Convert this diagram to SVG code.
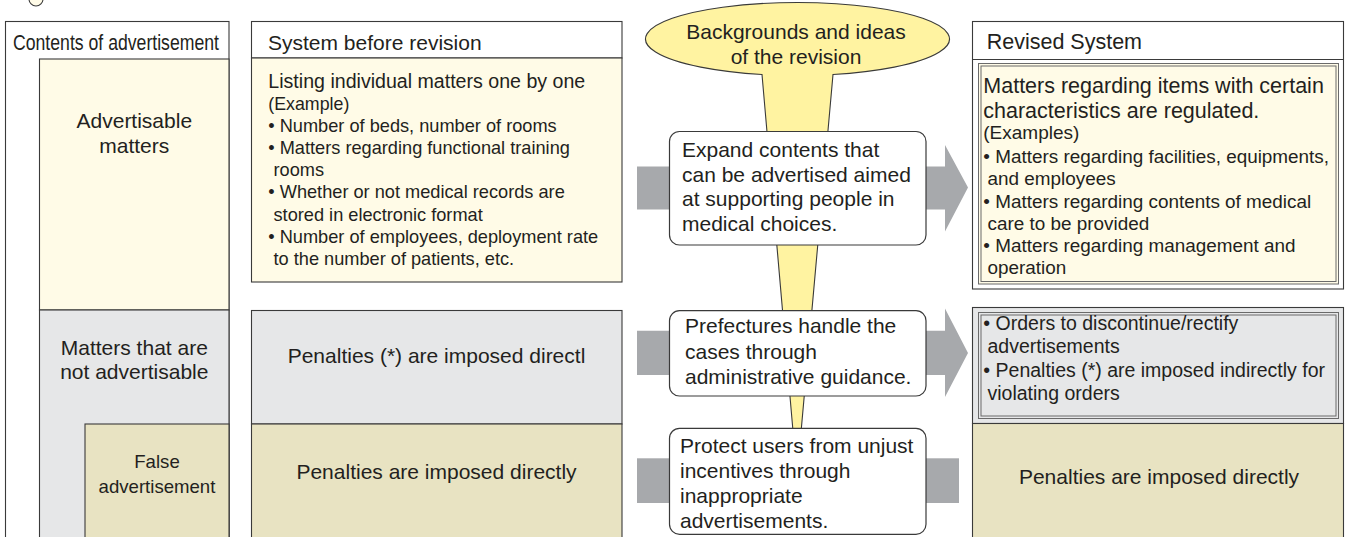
<svg xmlns="http://www.w3.org/2000/svg" width="1345" height="537" viewBox="0 0 1345 537">
<style>
.t{font-family:"Liberation Sans",Arial,Helvetica,sans-serif;fill:#231F20}
.f21{font-size:21px}
.f19{font-size:19.5px}
.f18{font-size:18.2px}
.c{text-anchor:middle}
.bx{stroke:#3a3a3a;stroke-width:1.1}
.white{fill:#ffffff}
.cream{fill:#FFFBE7}
.gray{fill:#E6E7E8}
.khaki{fill:#E8E3C2}
.dbl{fill:none;stroke:#6a6a6a;stroke-width:1}
.arrow{fill:#A7A9AC}
.rbox{fill:#ffffff;stroke:#3a3a3a;stroke-width:1.2}
</style>

<circle cx="36" cy="-1" r="7" fill="#FFFBE7" stroke="#3a3a3a" stroke-width="1.1"/>

<g id="connectors">
  <polygon class="arrow" points="637,166.5 945,166.5 945,145 968,187.5 945,231.5 945,209.5 637,209.5"/>
  <polygon class="arrow" points="637,330.7 945,330.7 945,308.5 968,353 945,397 945,375 637,375"/>
  <rect class="arrow" x="637" y="458.3" width="322" height="44.7"/>
</g>

<g id="callout">
  <path d="M 762 74.5 A 152 36.5 0 1 1 833 74.5 L 797 477 Z" fill="#FFF3A1" stroke="#3a3a3a" stroke-width="1.1"/>
  <text class="t f21 c" x="796" y="39.3">Backgrounds and ideas</text>
  <text class="t f21 c" x="796" y="64">of the revision</text>
</g>

<g id="left-column">
  <rect class="bx white" x="5.5" y="21.5" width="223.5" height="530"/>
  <text class="t c" x="116" y="50" font-size="22" textLength="206" lengthAdjust="spacingAndGlyphs">Contents of advertisement</text>
  <g id="advertisable">
    <rect class="bx cream" x="39.5" y="59" width="189.5" height="251"/>
    <text class="t f21 c" x="134.3" y="128">Advertisable</text>
    <text class="t f21 c" x="134.3" y="152.7">matters</text>
  </g>
  <g id="not-advertisable">
    <rect class="bx gray" x="39.5" y="310" width="189.5" height="240"/>
    <text class="t f21 c" x="134.3" y="355">Matters that are</text>
    <text class="t f21 c" x="134.3" y="379">not advertisable</text>
  </g>
  <g id="false-ad">
    <rect class="bx khaki" x="85" y="424" width="144" height="130"/>
    <text class="t c" font-size="18.6" x="157" y="468">False</text>
    <text class="t c" font-size="18.6" x="157" y="493">advertisement</text>
  </g>
</g>

<g id="before-revision">
  <rect class="bx white" x="251.5" y="21.5" width="370.5" height="36.5"/>
  <text class="t f21" x="268" y="50">System before revision</text>
  <g id="before-advertisable">
    <rect class="bx cream" x="251.5" y="58" width="370.5" height="224"/>
    <text class="t" font-size="19.6" x="268.3" y="87.5">Listing individual matters one by one</text>
    <text class="t" font-size="17.8" x="268.3" y="109.5">(Example)</text>
    <text class="t f18" x="268.3" y="131.8">• Number of beds, number of rooms</text>
    <text class="t f18" x="268.3" y="154">• Matters regarding functional training</text>
    <text class="t f18" x="273.5" y="176.2">rooms</text>
    <text class="t f18" x="268.3" y="198.4">• Whether or not medical records are</text>
    <text class="t f18" x="273.5" y="220.6">stored in electronic format</text>
    <text class="t f18" x="268.3" y="242.8">• Number of employees, deployment rate</text>
    <text class="t f18" x="273.5" y="265">to the number of patients, etc.</text>
  </g>
  <g id="before-not-advertisable">
    <rect class="bx gray" x="251.5" y="310.5" width="370.5" height="113.5"/>
    <text class="t f21 c" x="436.5" y="362.7">Penalties (*) are imposed directl</text>
  </g>
  <g id="before-false">
    <rect class="bx khaki" x="251.5" y="424" width="370.5" height="130"/>
    <text class="t f21 c" x="436.5" y="479">Penalties are imposed directly</text>
  </g>
</g>

<g id="idea-expand">
  <rect class="rbox" x="669.5" y="131.5" width="256.5" height="113.5" rx="10"/>
  <text class="t f21" x="682" y="156.7">Expand contents that</text>
  <text class="t f21" x="682" y="181.7">can be advertised aimed</text>
  <text class="t f21" x="682" y="206.3">at supporting people in</text>
  <text class="t f21" x="682" y="230.7">medical choices.</text>
</g>

<g id="idea-prefectures">
  <rect class="rbox" x="669.5" y="310.7" width="256.5" height="85.3" rx="10"/>
  <text class="t f21" x="685" y="333.3">Prefectures handle the</text>
  <text class="t f21" x="685" y="359.3">cases through</text>
  <text class="t f21" x="685" y="384.3">administrative guidance.</text>
</g>

<g id="idea-protect">
  <rect class="rbox" x="669.5" y="428.3" width="256.5" height="106" rx="10"/>
  <text class="t f21" x="680" y="453.3">Protect users from unjust</text>
  <text class="t f21" x="680" y="478.3">incentives through</text>
  <text class="t f21" x="680" y="502.7">inappropriate</text>
  <text class="t f21" x="680" y="528.3">advertisements.</text>
</g>

<g id="revised-system">
  <rect class="bx white" x="972.5" y="21.5" width="371" height="267.5"/>
  <line x1="972.5" y1="59.5" x2="1343.5" y2="59.5" stroke="#3a3a3a" stroke-width="1.1"/>
  <text class="t" font-size="21.5" x="986.7" y="49">Revised System</text>
  <g id="revised-advertisable">
    <rect class="cream dbl" x="978.5" y="63.5" width="360" height="220.5" style="fill:#FFFBE7"/>
    <rect class="dbl" x="981" y="66" width="355" height="215.5"/>
    <text class="t" font-size="21.5" x="983.3" y="92.7">Matters regarding items with certain</text>
    <text class="t" font-size="21.5" x="983.3" y="118.3">characteristics are regulated.</text>
    <text class="t" font-size="19" x="983.3" y="139">(Examples)</text>
    <text class="t" font-size="18.9" x="983.3" y="163.3">• Matters regarding facilities, equipments,</text>
    <text class="t" font-size="18.9" x="987.5" y="185.3">and employees</text>
    <text class="t" font-size="18.9" x="983.3" y="207.6">• Matters regarding contents of medical</text>
    <text class="t" font-size="18.9" x="987.5" y="229.6">care to be provided</text>
    <text class="t" font-size="18.9" x="983.3" y="251.9">• Matters regarding management and</text>
    <text class="t" font-size="18.9" x="987.5" y="274">operation</text>
  </g>
  <g id="revised-not-advertisable">
    <rect class="bx gray" x="972.5" y="307.5" width="371" height="116"/>
    <rect class="dbl" x="978.5" y="312.5" width="360" height="106"/>
    <rect class="dbl" x="981" y="315" width="355" height="101"/>
    <text class="t f19" x="983.3" y="330">• Orders to discontinue/rectify</text>
    <text class="t f19" x="987.5" y="353.3">advertisements</text>
    <text class="t f19" x="983.3" y="377.3">• Penalties (*) are imposed indirectly for</text>
    <text class="t f19" x="987.5" y="400">violating orders</text>
  </g>
  <g id="revised-false">
    <rect class="bx khaki" x="972.5" y="423.5" width="371" height="130"/>
    <text class="t f21 c" x="1159" y="484">Penalties are imposed directly</text>
  </g>
</g>
</svg>
